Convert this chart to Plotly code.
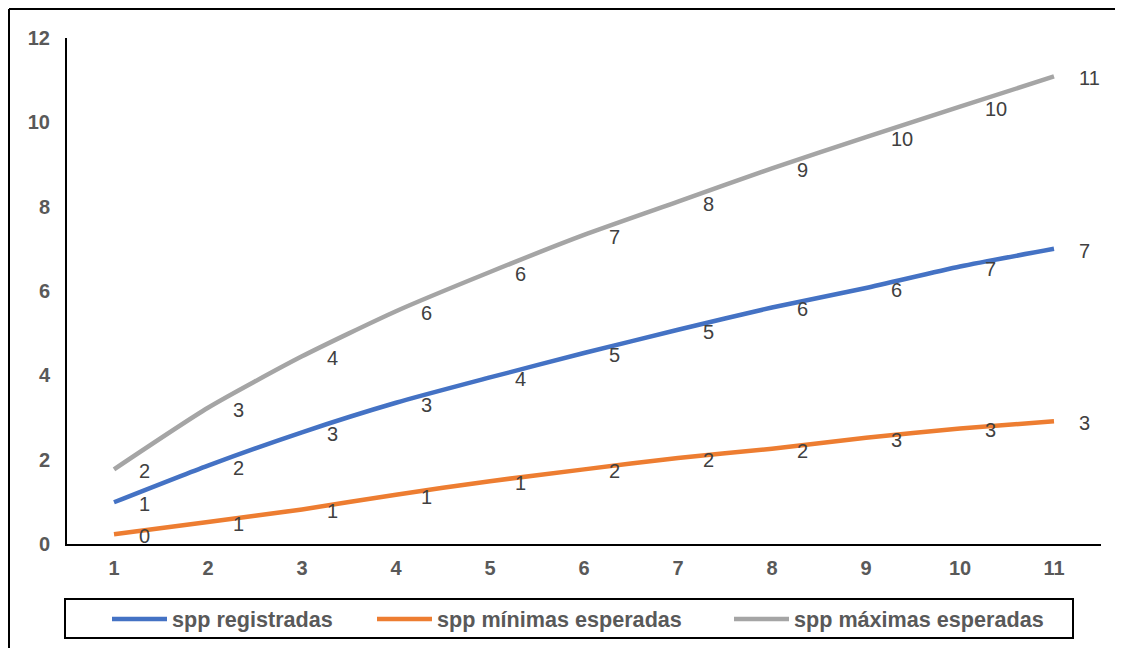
import plotly.graph_objects as go

# datos
meses = [1, 2, 3, 4, 5, 6, 7, 8, 9, 10, 11]
spp_registradas = [0.99, 1.86, 2.65, 3.35, 3.95, 4.53, 5.08, 5.61, 6.07, 6.58, 7.0]
spp_minimas = [0.23, 0.52, 0.82, 1.17, 1.49, 1.77, 2.04, 2.26, 2.52, 2.74, 2.91]
spp_maximas = [1.77, 3.23, 4.45, 5.52, 6.45, 7.33, 8.12, 8.91, 9.65, 10.37, 11.09]

nombres = ["spp registradas", "spp mínimas esperadas", "spp máximas esperadas"]
colores = ["#4472C4", "#ED7D31", "#A5A5A5"]
valores = [spp_registradas, spp_minimas, spp_maximas]

# la página tiene 8px de margen en el body -> todo se desplaza 8px
# (la figura es algo más alta que la ventana para que la leyenda no empuje el margen)
OFF = 8
W, H = 1123 - OFF, 665
L, R, T = 67 - OFF, 1123 - 1101, 38 - OFF
B = H - (544.5 - OFF)
pw, ph = W - L - R, H - T - B


def px_x(p):
    # p en pixeles de la captura
    return (p - OFF - L) / pw


def px_y(p):
    return (H - B - (p - OFF)) / ph


fig = go.Figure()
leyendas = ["legend", "legend2", "legend3"]
for nombre, vals, color, leg in zip(nombres, valores, colores, leyendas):
    fig.add_trace(go.Scatter(
        x=meses, y=vals, name=nombre, mode="lines", legend=leg,
        line=dict(color=color, width=4.5, shape="spline", smoothing=0.6),
    ))
    # etiquetas de datos a la derecha de cada punto
    for xv, yv in zip(meses, vals):
        fig.add_annotation(
            x=xv, y=yv, text=f"{yv:.0f}", showarrow=False,
            xanchor="left", yanchor="middle", xshift=23, yshift=-2,
            font=dict(family="Arial, Liberation Sans", size=20, color="#404040"),
        )

# caja de la leyenda
fig.add_shape(type="rect", xref="paper", yref="paper",
              x0=px_x(65), x1=px_x(1073), y0=px_y(638.5), y1=px_y(599.5),
              line=dict(color="black", width=2), fillcolor="rgba(0,0,0,0)")
# borde exterior (izquierda y arriba)
fig.add_shape(type="line", xref="paper", yref="paper",
              x0=px_x(9), x1=px_x(9), y0=px_y(680), y1=px_y(9),
              line=dict(color="black", width=2))
fig.add_shape(type="line", xref="paper", yref="paper",
              x0=px_x(9), x1=px_x(1140), y0=px_y(9), y1=px_y(9),
              line=dict(color="black", width=2))

tick_font = dict(family="Arial, Liberation Sans", size=20, color="#595959", weight="bold")
leg_font = dict(family="Arial, Liberation Sans", size=21.6, color="#595959", weight="bold")


def leyenda(xpx):
    return dict(
        orientation="h", x=px_x(xpx), y=px_y(620), xanchor="left", yanchor="middle",
        font=leg_font, itemwidth=55, bgcolor="rgba(0,0,0,0)", borderwidth=0,
    )


fig.update_layout(
    width=W, height=H,
    margin=dict(l=L, r=R, t=T, b=B),
    plot_bgcolor="white", paper_bgcolor="white",
    showlegend=True,
    legend=leyenda(113 - 6),
    legend2=leyenda(378 - 6),
    legend3=leyenda(736 - 7),
    xaxis=dict(
        range=[0.5, 11.5], tickvals=meses, showgrid=False, zeroline=False,
        showline=True, linecolor="black", linewidth=2,
        ticks="", tickfont=tick_font, ticklabelstandoff=5,
    ),
    yaxis=dict(
        range=[0, 12], dtick=2, showgrid=False, zeroline=False,
        showline=True, linecolor="black", linewidth=2,
        ticks="", tickfont=tick_font, ticklabelstandoff=11,
    ),
)

fig.write_html("out.html", config={"displayModeBar": False})
